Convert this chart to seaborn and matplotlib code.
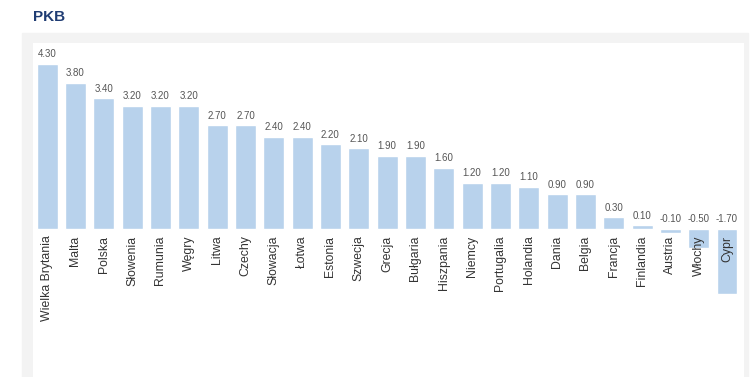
import matplotlib
matplotlib.use("Agg")
import matplotlib.pyplot as plt
import seaborn as sns
import pandas as pd
from matplotlib.patches import Rectangle

countries = ["Wielka Brytania", "Malta", "Polska", "Słowenia", "Rumunia", "Węgry",
             "Litwa", "Czechy", "Słowacja", "Łotwa", "Estonia", "Szwecja", "Grecja",
             "Bułgaria", "Hiszpania", "Niemcy", "Portugalia", "Holandia", "Dania",
             "Belgia", "Francja", "Finlandia", "Austria", "Włochy", "Cypr"]
gdp = [4.30, 3.80, 3.40, 3.20, 3.20, 3.20, 2.70, 2.70, 2.40, 2.40, 2.20, 2.10, 1.90,
       1.90, 1.60, 1.20, 1.20, 1.10, 0.90, 0.90, 0.30, 0.10, -0.10, -0.50, -1.70]


def main() -> None:
    sns.set_style("white")
    plt.rcParams["font.family"] = ["Liberation Sans", "DejaVu Sans"]
    df = pd.DataFrame({"kraj": countries, "pkb": gdp})
    n = len(countries)

    fig = plt.figure(figsize=(7.5, 3.77), dpi=100)
    W, H = 750, 377
    # gray panel behind the plot
    fig.patches.append(Rectangle((22 / W, 0), (748 - 22) / W, (377 - 33) / H,
                                 transform=fig.transFigure, color="#f3f3f3", zorder=-10))
    ax = fig.add_axes([33 / W, 0, (744 - 33) / W, (377 - 43) / H])
    ax.set_zorder(5)
    ax.set_facecolor("white")

    sns.barplot(data=df, x="kraj", y="pkb", color="#b8d2ec", saturation=1,
                width=0.74, ax=ax)

    for i, v in enumerate(gdp):
        ax.text(i, max(v, 0) + 0.12, f"{v:.2f}", ha="center", va="bottom",
                fontsize=7, color="#555555")
        ax.text(i, -0.17, countries[i], rotation=90, ha="center", va="top",
                fontsize=8.8, color="#333333")

    ax.set_xlim(-0.5, n - 1 + 0.6)
    ax.set_ylim(-3.85, 4.84)
    ax.set_xticks([])
    ax.set_yticks([])
    ax.set_xlabel("")
    ax.set_ylabel("")
    for s in ax.spines.values():
        s.set_visible(False)

    fig.text(33 / W, 1 - 17 / H, "PKB", fontsize=11, fontweight="bold",
             color="#1f3c73", va="center", ha="left")

    fig.savefig("out.png", dpi=100)


if __name__ == "__main__":
    main()
